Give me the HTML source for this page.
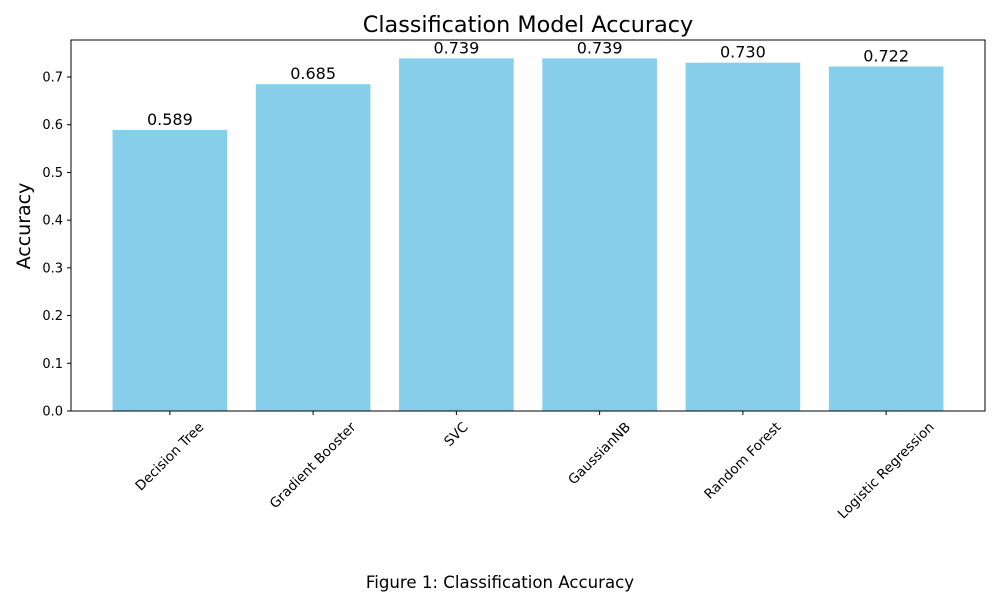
<!DOCTYPE html>
<html><head><meta charset="utf-8"><style>
body{margin:0;background:#fff;}
svg{display:block;font-family:"DejaVu Sans","Liberation Sans",sans-serif;}
</style></head><body>
<svg id="chart" width="1000" height="600">
<text x="528" y="32" font-size="22.3" text-anchor="middle">Classification Model Accuracy</text>
<text transform="translate(30,226) rotate(-90)" font-size="19" text-anchor="middle">Accuracy</text>
<text x="500" y="588" font-size="16.6" text-anchor="middle">Figure 1: Classification Accuracy</text>
<g id="bars"></g><g id="axes"></g>
</svg>
<script>
const categories=["Decision Tree","Gradient Booster","SVC","GaussianNB","Random Forest","Logistic Regression"];
const accuracy=[0.589,0.685,0.739,0.739,0.730,0.722];
const yTicks=[0,0.1,0.2,0.3,0.4,0.5,0.6,0.7];
const NS="http://www.w3.org/2000/svg";
const L=71,R=985,T=40,B=411;
const pxPer=(411-77)/0.7;
const y=v=>B-v*pxPer;
const xmin=-0.69,xmax=categories.length-1+0.69;
const x=i=>L+(i-xmin)/(xmax-xmin)*(R-L);
const unit=(R-L)/(xmax-xmin);
function mk(tag,attrs,parent){const e=document.createElementNS(NS,tag);for(const k in attrs)e.setAttribute(k,attrs[k]);parent.appendChild(e);return e;}
const bars=document.getElementById('bars'),axes=document.getElementById('axes');
accuracy.forEach((v,i)=>{
 const r=mk('rect',{x:x(i)-0.4*unit,y:y(v),width:0.8*unit,height:B-y(v),fill:'#87ceeb'},bars);
 
 
 const t=mk('text',{x:x(i),y:y(v)-5,'font-size':16,'text-anchor':'middle'},bars);
 t.textContent=v.toFixed(3);
 
 
 mk('line',{x1:x(i),x2:x(i),y1:B,y2:B+4,stroke:'#000'},axes);
 const lt=mk('text',{'font-size':13.5,'text-anchor':'middle','dominant-baseline':'central'},axes);
 lt.textContent=categories[i];
 
 
 const w=lt.getComputedTextLength();
 const half=(w+14)*0.7071/2;
 lt.setAttribute('transform',`translate(${x(i)},${B+9+half}) rotate(-45)`);
});
yTicks.forEach(v=>{
 mk('line',{x1:L-4,x2:L,y1:y(v),y2:y(v),stroke:'#000'},axes);
 const t=mk('text',{x:L-8,y:y(v)+4.5,'font-size':13,'text-anchor':'end'},axes);
 t.textContent=v.toFixed(1);
 
 
});
const f=mk('rect',{x:L,y:T,width:R-L,height:B-T,fill:'none',stroke:'#000','stroke-width':1},axes);


</script>
</body></html>
